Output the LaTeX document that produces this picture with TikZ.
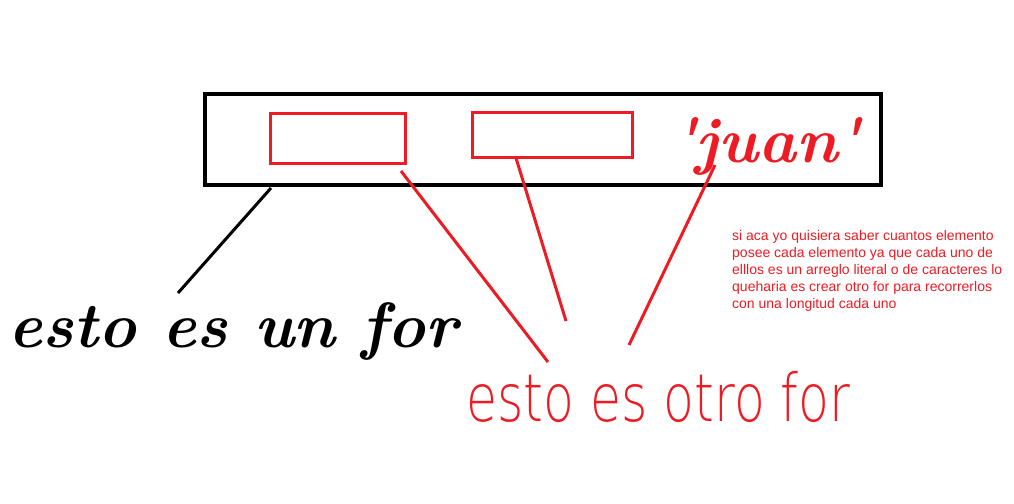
\documentclass[tikz,border=0pt]{standalone}
\usepackage{fontspec}
\newfontfamily\smallsans{Liberation Sans}
\newfontfamily\thinsans{DejaVu Sans ExtraLight}
\definecolor{pred}{HTML}{ED1C24}
\tikzset{
  blackbox/.style={draw=black, line width=4pt},
  redbox/.style={draw=pred, line width=3pt},
  blackline/.style={draw=black, line width=3pt},
  redline/.style={draw=pred, line width=3pt},
}
\begin{document}
\begin{tikzpicture}[x=1pt,y=-1pt]
\useasboundingbox[fill=white] (0,0) rectangle (1014,503);
% main box
\draw[blackbox] (205,94) rectangle (881,185);
\node[redbox, minimum width=135pt, minimum height=50pt, inner sep=0pt] (r1) at (337.5,138) {};
\node[redbox, minimum width=160pt, minimum height=45pt, inner sep=0pt] (r2) at (552,134.5) {};
\node[text=pred, font=\fontsize{64}{64}\selectfont\bfseries\itshape, anchor=base west, inner sep=0pt] (juan) at (673,162) {\textquotesingle juan\textquotesingle};
% labels
\node[text=black, font=\fontsize{64}{64}\selectfont\bfseries\itshape, anchor=base west, inner sep=0pt] (for1) at (8,347) {esto es un for};
\node[text=pred, font=\fontsize{66}{66}\selectfont\thinsans, anchor=base west, inner sep=0pt] (for2) at (466,421) {\scalebox{0.765}[1]{esto es otro for}};
\node[text=pred, font=\fontsize{14}{17}\selectfont\smallsans, anchor=north west, align=left, inner sep=0pt] (note) at (732,230) {si aca yo quisiera saber cuantos elemento\\posee cada elemento ya que cada uno de\\elllos es un arreglo literal o de caracteres lo\\queharia es crear otro for para recorrerlos\\con una longitud cada uno};
% connector endpoints
\coordinate (b1) at (271,188);
\coordinate (t1) at (178,293);
\coordinate (s1) at (401,171);
\coordinate (e1) at (548,362);
\coordinate (s2) at (516,158);
\coordinate (e2) at (566,321);
\coordinate (s3) at (715,165);
\coordinate (e3) at (629,345);
\draw[blackline] (b1) -- (t1);
\draw[redline] (s1) -- (e1);
\draw[redline] (s2) -- (e2);
\draw[redline] (s3) -- (e3);
\end{tikzpicture}
\end{document}
